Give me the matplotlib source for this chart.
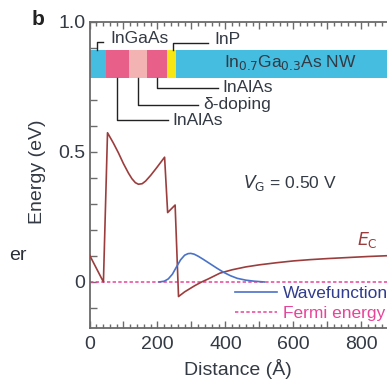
import matplotlib
matplotlib.use("Agg")
import matplotlib.pyplot as plt
from matplotlib.ticker import MultipleLocator, FuncFormatter
from matplotlib.patches import Rectangle

plt.rcParams['font.family'] = ['Liberation Sans', 'DejaVu Sans']

# ---- data ----
ec_x = [0, 41, 53, 70, 85, 100, 115, 125, 135, 144, 155, 165, 180, 198, 221, 230, 252, 262,
        270, 280, 295, 310, 330, 350, 384, 420, 460, 500, 550, 600, 650, 700, 760, 820, 876]
ec_y = [0.104, 0.0, 0.574, 0.535, 0.497, 0.455, 0.418, 0.397, 0.382, 0.376, 0.378, 0.388, 0.41, 0.44, 0.48, 0.267, 0.296, -0.056,
        -0.048, -0.038, -0.026, -0.014, 0.0, 0.012, 0.034, 0.047, 0.058, 0.066, 0.074, 0.081, 0.086, 0.09, 0.094, 0.098, 0.101]

wf_x = [205, 220, 232, 244, 256, 268, 280, 290, 298, 308, 320, 335, 355, 375, 395, 415, 435, 460, 485, 515]
wf_y = [0.0, 0.003, 0.012, 0.03, 0.058, 0.085, 0.103, 0.109, 0.11, 0.107, 0.099, 0.087, 0.07, 0.053, 0.037, 0.024, 0.014, 0.007, 0.003, 0.0]

fermi_x = [0, 876]
fermi_y = [0.0, 0.0]

# layer structure along the wire (Å)
layer_edges = [0, 50, 115, 170, 228, 255, 876]
layer_colors = ['#45bde0', '#e8608a', '#f4b3b3', '#e8608a', '#f5e614', '#45bde0']

# ---- figure ----
W, H = 387, 379
fig = plt.figure(figsize=(W / 100, H / 100), dpi=100)

def fx(px):
    return px / W

def fy(py):
    return 1 - py / H

ax_l, ax_r, ax_t, ax_b = 89.5, 387, 22, 328
ax = fig.add_axes([fx(ax_l), fy(ax_b), fx(ax_r - ax_l), (ax_b - ax_t) / H])
ax.set_xlim(0, 875.6)
ax.set_ylim(-0.177, 1.0)

ec_col = '#9c3d3d'
wf_col = '#4a72c8'
fe_col = '#e8449a'
txt_col = '#333a44'

ax.plot(fermi_x, fermi_y, color=fe_col, lw=1.1, ls=(0, (2.2, 1.5)), label='Fermi energy', zorder=2)
ax.plot(ec_x, ec_y, color=ec_col, lw=1.2, zorder=3)
ax.plot(wf_x, wf_y, color=wf_col, lw=1.2, zorder=3, label='Wavefunction')

# band / layer bar
y0, y1 = 0.785, 0.892
for i, c in enumerate(layer_colors):
    ax.add_patch(Rectangle((layer_edges[i], y0), layer_edges[i + 1] - layer_edges[i], y1 - y0,
                           facecolor=c, edgecolor='none', zorder=2, clip_on=False))
ax.text(590, 0.846, r'In$_{0.7}$Ga$_{0.3}$As NW', ha='center', va='center', fontsize=12.5, color=txt_col)

lc = '#222222'
lw = 1.0
fs = 12.5
# InGaAs
ax.plot([22, 22, 40], [y1, 0.923, 0.923], color=lc, lw=lw, clip_on=False, zorder=4)
ax.text(61, 0.935, 'InGaAs', ha='left', va='center', fontsize=fs, color=txt_col)
# InP
ax.plot([247, 247, 349], [y1, 0.919, 0.919], color=lc, lw=lw, clip_on=False, zorder=4)
ax.text(367, 0.931, 'InP', ha='left', va='center', fontsize=fs, color=txt_col)
# InAlAs (upper)
ax.plot([198, 198, 378], [y0, 0.745, 0.745], color=lc, lw=lw, clip_on=False, zorder=4)
ax.text(390, 0.748, 'InAlAs', ha='left', va='center', fontsize=fs, color=txt_col)
# delta doping
ax.plot([144, 144, 320], [y0, 0.681, 0.681], color=lc, lw=lw, clip_on=False, zorder=4)
ax.text(334, 0.681, 'δ-doping', ha='left', va='center', fontsize=fs, color=txt_col)
# InAlAs (lower)
ax.plot([80, 80, 231], [y0, 0.623, 0.623], color=lc, lw=lw, clip_on=False, zorder=4)
ax.text(243, 0.621, 'InAlAs', ha='left', va='center', fontsize=fs, color=txt_col)

ax.text(452, 0.381, r'$V_{\mathrm{G}}$ = 0.50 V', ha='left', va='center', fontsize=fs, color=txt_col)
ax.text(787, 0.162, r'$E_{\mathrm{C}}$', ha='left', va='center', fontsize=fs, color=ec_col)

leg = ax.legend(handles=[ax.lines[2], ax.lines[0]], loc='upper left',
                bbox_to_anchor=(fx(235), fy(286)), bbox_transform=fig.transFigure,
                frameon=False, fontsize=fs, handlelength=2.4, handletextpad=0.35,
                borderpad=0, borderaxespad=0, labelspacing=0.25)
leg.get_texts()[0].set_color('#303c8c')
leg.get_texts()[1].set_color(fe_col)

# axes styling
spine_col = '#6b6b6b'
for s in ['left', 'bottom', 'top']:
    ax.spines[s].set_color(spine_col)
    ax.spines[s].set_linewidth(1.3)
ax.spines['right'].set_visible(False)

ax.xaxis.set_major_locator(MultipleLocator(100))
ax.xaxis.set_minor_locator(MultipleLocator(20))
ax.xaxis.set_major_formatter(FuncFormatter(lambda v, p: f'{int(round(v))}' if round(v) % 200 == 0 else ''))
ax.yaxis.set_major_locator(MultipleLocator(0.5))
ax.yaxis.set_minor_locator(MultipleLocator(0.1))
ax.yaxis.set_major_formatter(FuncFormatter(lambda v, p: '0' if abs(v) < 1e-9 else f'{v:.1f}'))
ax.tick_params(axis='both', which='both', direction='in', color=spine_col, labelcolor=txt_col,
               labelsize=14, top=True, right=False)
ax.tick_params(axis='x', which='major', length=5, width=1.0, pad=6)
ax.tick_params(axis='x', which='minor', length=3, width=1.0)
ax.tick_params(axis='y', which='major', length=5, width=1.0, pad=3)
ax.tick_params(axis='y', which='minor', length=5, width=1.0)

ax.set_xlabel('Distance (Å)', fontsize=14, color=txt_col, labelpad=4)
fig.text(fx(38), fy(172), 'Energy (eV)', rotation=90, ha='center', va='center', fontsize=14, color=txt_col)

fig.text(fx(32), fy(25), 'b', fontsize=15, fontweight='bold', color='#222222', ha='left', va='baseline')
fig.text(fx(27), fy(255), 'er', fontsize=14, color='#2a2f38', ha='right', va='center')

fig.savefig('out.png', dpi=100)
